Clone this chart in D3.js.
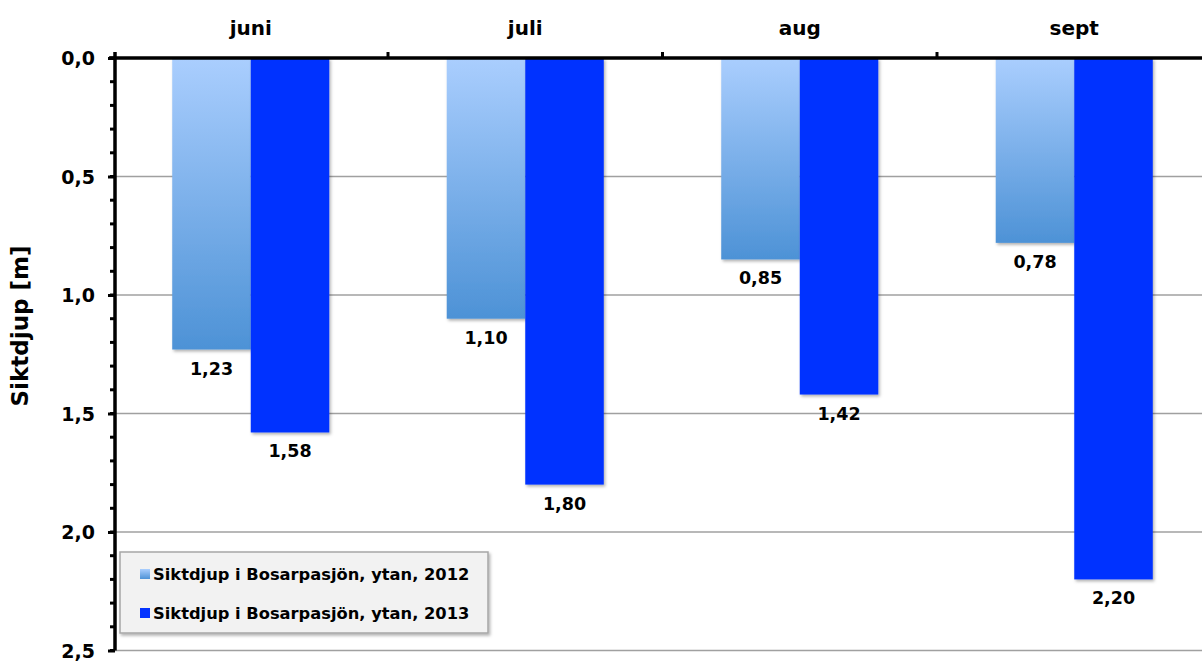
<!DOCTYPE html>
<html>
<head>
<meta charset="utf-8">
<script src="https://cdn.jsdelivr.net/npm/d3@7"></script>
<style>
  html, body { margin: 0; padding: 0; background: #fff; overflow: hidden; }
  svg { display: block; font-family: "DejaVu Sans", Verdana, sans-serif; font-weight: bold; }
</style>
</head>
<body>
<svg id="chart" width="1202" height="661"></svg>
<script>
// Secchi depth (m) in Bosarpasjön, surface readings per month
const months = ["juni", "juli", "aug", "sept"];
const seriesNames = ["Siktdjup i Bosarpasjön, ytan, 2012", "Siktdjup i Bosarpasjön, ytan, 2013"];
const values2012 = [1.23, 1.10, 0.85, 0.78];
const values2013 = [1.58, 1.80, 1.42, 2.20];
const yTicks = [0, 0.5, 1.0, 1.5, 2.0, 2.5];
const yMinorTicks = d3.range(0, 26).map(i => i / 10);

const svg = d3.select("#chart");
const defs = svg.append("defs");

const grad = defs.append("linearGradient")
  .attr("id", "lightGrad").attr("x1", 0).attr("y1", 0).attr("x2", 0).attr("y2", 1);
grad.append("stop").attr("offset", "0%").attr("stop-color", "#aacefe");
grad.append("stop").attr("offset", "100%").attr("stop-color", "#4d92d6");

const shadow = defs.append("filter").attr("id", "shadow")
  .attr("x", "-10%").attr("y", "-10%").attr("width", "130%").attr("height", "130%");
shadow.append("feDropShadow").attr("dx", 1.5).attr("dy", 2).attr("stdDeviation", 1.5)
  .attr("flood-color", "#000").attr("flood-opacity", 0.3);

const fills = ["url(#lightGrad)", "#0433ff"];
const seriesData = [values2012, values2013];

const plotLeft = 115, plotTop = 58;
const x = d3.scaleBand().domain(months).range([113.5, 1211.5]).padding(0);
const xs = d3.scaleBand().domain([0, 1]).range([0, x.bandwidth()]).paddingInner(0).paddingOuter(0.748);
const y = d3.scaleLinear().domain([0, 2.5]).range([plotTop, 650.5]);
const fmt = v => d3.format(".2f")(v).replace(".", ",");
const fmtAxis = v => d3.format(".1f")(v).replace(".", ",");

// gridlines
svg.append("g").selectAll("line").data(yTicks.filter(d => d > 0)).join("line")
  .attr("x1", plotLeft).attr("x2", 1202)
  .attr("y1", d => y(d)).attr("y2", d => y(d))
  .attr("stroke", "#a0a0a0").attr("stroke-width", 1.5);

// bars
const bars = svg.append("g");
seriesData.forEach((vals, si) => {
  bars.append("g").selectAll("rect").data(vals).join("rect")
    .attr("x", (d, i) => x(months[i]) + xs(si))
    .attr("y", y(0))
    .attr("width", xs.bandwidth())
    .attr("height", d => y(d) - y(0))
    .attr("fill", fills[si])
    .attr("filter", "url(#shadow)");
});

// value labels
seriesData.forEach((vals, si) => {
  svg.append("g").selectAll("text").data(vals).join("text")
    .attr("x", (d, i) => x(months[i]) + xs(si) + xs.bandwidth() / 2)
    .attr("y", d => y(d) + 19)
    .attr("text-anchor", "middle")
    .attr("dominant-baseline", "central")
    .attr("font-size", 17.5)
    .attr("fill", "#000")
    .text(fmt);
});

// y axis (minor ticks)
svg.append("g").selectAll("line").data(yMinorTicks).join("line")
  .attr("x1", 110).attr("x2", plotLeft)
  .attr("y1", d => y(d)).attr("y2", d => y(d))
  .attr("stroke", "#000").attr("stroke-width", 3);

// y axis (major ticks + labels)
const yAxis = svg.append("g").attr("transform", `translate(${plotLeft},0)`)
  .call(d3.axisLeft(y).tickValues(yTicks).tickFormat(fmtAxis).tickSize(7).tickPadding(13));
yAxis.select(".domain").attr("stroke-width", 3.5).attr("d", `M0,52V${y(2.5)}`);
yAxis.selectAll(".tick line").attr("stroke-width", 3);
yAxis.selectAll(".tick text").attr("font-size", 19).attr("font-family", "DejaVu Sans")
  .attr("font-weight", "bold").attr("fill", "#000").attr("dy", "0.35em");

// top category axis
const xAxis = svg.append("g").attr("transform", `translate(0,${plotTop})`);
xAxis.append("line").attr("x1", 109).attr("x2", 1202).attr("y1", 0).attr("y2", 0)
  .attr("stroke", "#000").attr("stroke-width", 3.5);
xAxis.selectAll("line.sep").data(months.slice(1)).join("line").attr("class", "sep")
  .attr("x1", d => x(d)).attr("x2", d => x(d)).attr("y1", 0).attr("y2", -6)
  .attr("stroke", "#000").attr("stroke-width", 3);
xAxis.selectAll("text").data(months).join("text")
  .attr("x", d => x(d) + x.bandwidth() / 2)
  .attr("y", -30)
  .attr("text-anchor", "middle")
  .attr("dominant-baseline", "central")
  .attr("font-size", 20)
  .text(d => d);

// y title
svg.append("text")
  .attr("transform", "translate(20,326) rotate(-90)")
  .attr("text-anchor", "middle")
  .attr("dominant-baseline", "central")
  .attr("font-size", 23)
  .text("Siktdjup [m]");

// legend
const legend = svg.append("g").attr("transform", "translate(120,552)");
legend.append("rect").attr("width", 368).attr("height", 81)
  .attr("fill", "#f2f2f2").attr("stroke", "#a6a6a6").attr("stroke-width", 1.5)
  .attr("filter", "url(#shadow)");
seriesNames.forEach((name, i) => {
  const gy = 22 + i * 39;
  legend.append("rect").attr("x", 20).attr("y", gy - 5).attr("width", 10).attr("height", 10)
    .attr("fill", fills[i]);
  legend.append("text").attr("x", 33).attr("y", gy)
    .attr("dominant-baseline", "central").attr("font-size", 16.3).text(name);
});
</script>
</body>
</html>
